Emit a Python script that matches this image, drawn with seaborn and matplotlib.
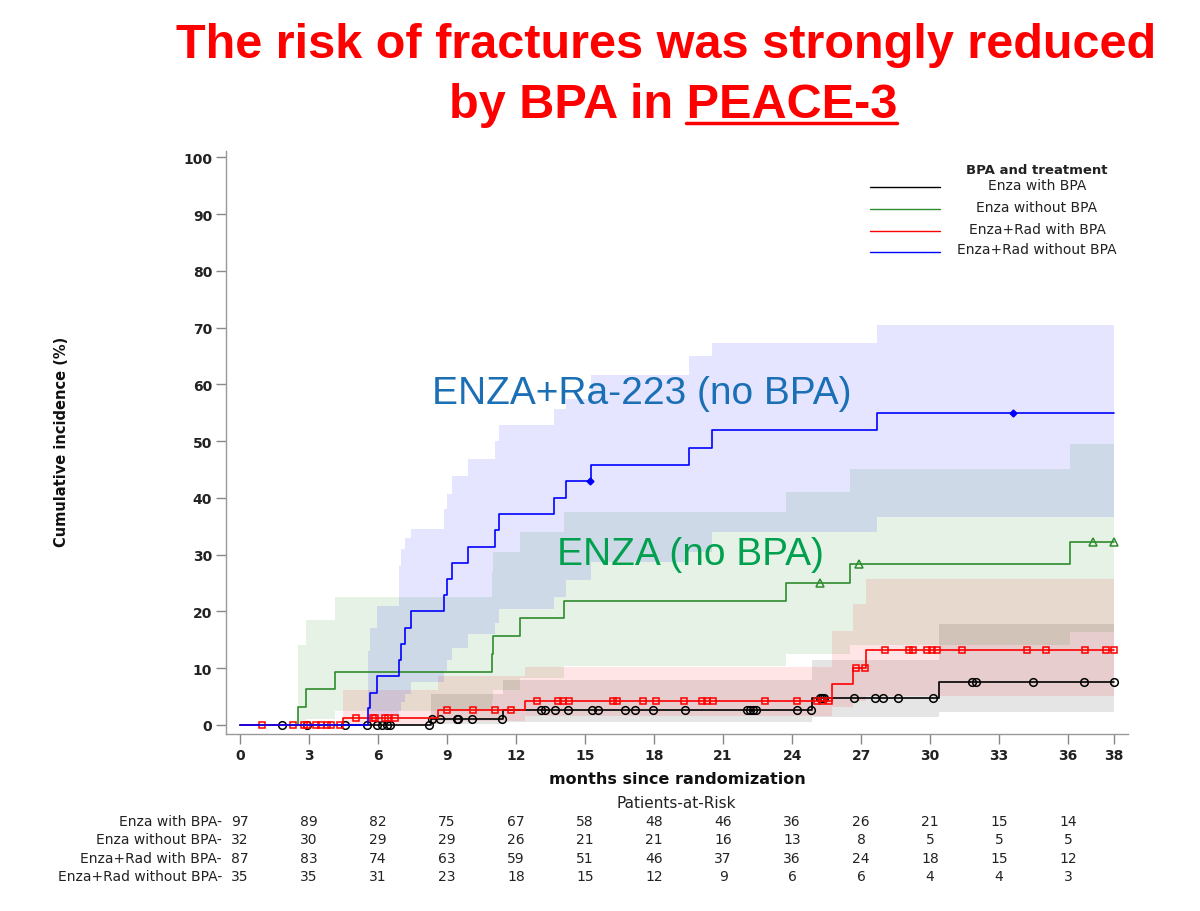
import numpy as np
import matplotlib
matplotlib.use("Agg")
import matplotlib.pyplot as plt
import matplotlib.transforms as mtransforms
from matplotlib.lines import Line2D
import seaborn as sns

# ---------------- data ----------------
x_ticks = [0, 3, 6, 9, 12, 15, 18, 21, 24, 27, 30, 33, 36, 38]
y_ticks = [0, 10, 20, 30, 40, 50, 60, 70, 80, 90, 100]
END = 38.0

groups = ["Enza with BPA", "Enza without BPA", "Enza+Rad with BPA", "Enza+Rad without BPA"]

# Enza with BPA (black)
black_t = [0, 8.3, 11.45, 24.85, 30.4]
black_y = [0, 1.1, 2.6, 4.7, 7.6]
black_lo = [0, 0.1, 0.6, 1.4, 2.3]
black_hi = [0, 5.5, 8.0, 11.5, 17.8]
black_cens = [1.84, 2.93, 4.57, 5.5, 5.94, 6.16, 6.38, 6.52, 8.22, 8.36, 8.7, 9.42, 9.49,
              10.07, 11.4, 13.1, 13.26, 13.7, 14.27, 15.29, 15.58, 16.74, 17.17, 17.97,
              19.35, 22.03, 22.15, 22.3, 22.43, 24.23, 24.8, 25.2, 25.3, 25.4, 26.67,
              27.6, 27.97, 28.62, 30.14, 31.8, 32.0, 34.46, 36.67, 37.97]

# Enza without BPA (green)
green_t = [0, 2.54, 2.87, 4.13, 10.94, 11.0, 12.19, 14.09, 23.75, 26.5, 36.1]
green_y = [0, 3.1, 6.25, 9.4, 12.5, 15.6, 18.8, 21.9, 25.0, 28.4, 32.3]
green_lo = [0, 0.3, 1.0, 2.5, 4.2, 6.2, 8.3, 10.3, 12.5, 14.0, 16.4]
green_hi = [0, 14.0, 18.4, 22.6, 27.0, 30.5, 34.0, 37.5, 41.0, 45.0, 49.5]
green_cens = [25.2, 26.9, 37.06, 37.97]

# Enza+Rad with BPA (red)
red_t = [0, 4.49, 8.62, 12.39, 25.75, 26.65, 27.2]
red_y = [0, 1.15, 2.6, 4.3, 7.2, 10.0, 13.2]
red_lo = [0, 0.2, 0.7, 1.6, 3.2, 4.2, 5.1]
red_hi = [0, 6.2, 8.7, 10.2, 16.6, 21.3, 25.7]
red_cens = [0.94, 2.29, 2.78, 2.9, 3.3, 3.5, 3.77, 3.95, 4.35, 5.04, 5.77, 5.85, 6.3,
            6.45, 6.74, 9.01, 10.14, 11.09, 11.78, 12.9, 13.84, 14.06, 14.32, 16.2, 16.4,
            17.5, 18.1, 19.3, 20.07, 20.29, 20.58, 22.8, 24.2, 25.07, 25.3, 25.6, 26.77,
            27.15, 28.04, 29.1, 29.27, 29.85, 30.07, 30.28, 31.4, 34.2, 35.04, 36.74,
            37.65, 37.97]

# Enza+Rad without BPA (blue)
blue_t = [0, 5.55, 5.65, 5.94, 6.93, 7.0, 7.15, 7.45, 8.88, 9.0, 9.2, 9.9, 11.1, 11.26,
          13.65, 14.16, 15.25, 19.5, 20.5, 27.7]
blue_y = [0, 2.9, 5.7, 8.6, 11.4, 14.3, 17.1, 20.0, 22.9, 25.7, 28.6, 31.4, 34.3, 37.1,
          40.0, 42.9, 45.8, 48.8, 51.9, 55.0]
blue_lo = [0, 0.0, 0.5, 1.5, 2.5, 4.0, 5.5, 7.5, 9.5, 11.5, 13.5, 16.0, 18.0, 20.5,
           22.5, 25.5, 28.7, 30.5, 34.0, 36.6]
blue_hi = [0, 13.0, 17.0, 21.0, 28.0, 31.0, 33.0, 34.5, 38.0, 40.7, 43.9, 46.9, 50.1,
           52.8, 55.6, 57.5, 61.6, 65.0, 67.3, 70.4]
blue_cens = [15.2, 33.6]

# Patients at risk at months 0, 3, ..., 36
risk_months = [0, 3, 6, 9, 12, 15, 18, 21, 24, 27, 30, 33, 36]
risk_black = [97, 89, 82, 75, 67, 58, 48, 46, 36, 26, 21, 15, 14]
risk_green = [32, 30, 29, 29, 26, 21, 21, 16, 13, 8, 5, 5, 5]
risk_red = [87, 83, 74, 63, 59, 51, 46, 37, 36, 24, 18, 15, 12]
risk_blue = [35, 35, 31, 23, 18, 15, 12, 9, 6, 6, 4, 4, 3]

title_line1 = "The risk of fractures was strongly reduced"
title_line2 = "by BPA in PEACE-3"
title_underlined = "PEACE-3"

# ---------------- styling ----------------
sns.set_theme(style="white")
plt.rcParams["font.family"] = ["DejaVu Sans"]

W, H = 1200, 912
fig = plt.figure(figsize=(W / 100, H / 100), dpi=100)
fig.patch.set_facecolor("white")


def fx(px):
    return px / W


def fy(py):
    return 1 - py / H


ax = fig.add_axes([fx(226), fy(735), fx(1128) - fx(226), fy(152) - fy(735)])
ax.set_facecolor("white")

series = [
    (black_t, black_y, black_lo, black_hi, black_cens, "black", "black", "o", 5.5),
    (green_t, green_y, green_lo, green_hi, green_cens, "#2E8B2E", "green", "^", 5.5),
    (red_t, red_y, red_lo, red_hi, red_cens, "#FF0000", "red", "s", 5.0),
    (blue_t, blue_y, blue_lo, blue_hi, blue_cens, "#0000FF", "blue", "D", 3.5),
]

# confidence bands
for t, y, lo, hi, cens, lc, bc, mk, ms in series:
    xs = list(t[1:]) + [END]
    ax.fill_between(xs, list(lo[1:]) + [lo[-1]], list(hi[1:]) + [hi[-1]],
                    step="post", color=bc, alpha=0.1, linewidth=0, zorder=1)

# step curves + censor markers
for i, (t, y, lo, hi, cens, lc, bc, mk, ms) in enumerate(series):
    xs = list(t) + [END]
    ys = list(y) + [y[-1]]
    sns.lineplot(x=xs, y=ys, drawstyle="steps-post", estimator=None, sort=False,
                 color=lc, linewidth=1.2, ax=ax, legend=False, zorder=3 + i)
    tarr = np.asarray(t)
    idx = np.searchsorted(tarr, np.asarray(cens), side="right") - 1
    yc = np.asarray(y)[idx]
    if mk == "D":
        ax.plot(cens, yc, ls="none", marker=mk, ms=ms, mfc=lc, mec=lc, zorder=8)
    else:
        ax.plot(cens, yc, ls="none", marker=mk, ms=ms, mfc="none", mec=lc, mew=1.1,
                zorder=3 + i)

ax.set_xlim(-0.61, 38.6)
ax.set_ylim(-1.6, 101.1)
ax.set_xticks(x_ticks)
ax.set_xticklabels([str(v) for v in x_ticks], fontsize=10, fontweight="bold", color="#222222")
ax.set_yticks(y_ticks)
ax.set_yticklabels([str(v) for v in y_ticks], fontsize=10, fontweight="bold", color="#222222")
ax.tick_params(axis="both", direction="out", length=7, width=1, color="#888888", pad=3,
               bottom=True, left=True)
for s in ["top", "right"]:
    ax.spines[s].set_visible(False)
for s in ["left", "bottom"]:
    ax.spines[s].set_color("#999999")
    ax.spines[s].set_linewidth(1)

ax.set_ylabel("Cumulative incidence (%)", fontsize=10.5, fontweight="bold", color="#111111",
              va="center")
ax.yaxis.set_label_coords((62 - 226) / 902, (735 - 442) / 583)
ax.set_xlabel("months since randomization", fontsize=11.5, fontweight="bold", color="#111111",
              va="center")
ax.xaxis.set_label_coords(0.5, (735 - 780) / 583)

# in-plot annotations
ax.text(17.48, 56.7, "ENZA+Ra-223 (no BPA)", ha="center", va="baseline", fontsize=28,
        family="Liberation Sans", color="#1A6FB5", zorder=10)
ax.text(19.6, 28.3, "ENZA (no BPA)", ha="center", va="baseline", fontsize=28,
        family="Liberation Sans", color="#00A04E", zorder=10)

# legend (centered labels as in the reference)
fig.text(fx(1037), fy(170), "BPA and treatment", ha="center", va="center", fontsize=9.5,
         fontweight="bold", color="#222222")
leg_y = [188, 210, 231.5, 252.5]
leg_cols = ["black", "#2E8B2E", "#FF0000", "#0000FF"]
for g, py, c in zip(groups, leg_y, leg_cols):
    fig.add_artist(Line2D([fx(870), fx(940)], [fy(py), fy(py)], color=c, lw=1.0))
    fig.text(fx(1037), fy(py - 2), g, ha="center", va="center", fontsize=10, color="#222222")

# patients at risk table
fig.text(fx(676), fy(804), "Patients-at-Risk", ha="center", va="center", fontsize=11,
         color="#222222")
trans = mtransforms.blended_transform_factory(ax.transData, fig.transFigure)
row_y = [822, 840.5, 859, 877.5]
for g, vals, py in zip(groups, [risk_black, risk_green, risk_red, risk_blue], row_y):
    fig.text(fx(222), fy(py), g + "-", ha="right", va="center", fontsize=10, color="#222222")
    for m, v in zip(risk_months, vals):
        ax.text(m, fy(py), str(v), transform=trans, ha="center", va="center", fontsize=10,
                color="#222222", clip_on=False)

# title
fig.text(fx(666), fy(58), title_line1, ha="center", va="baseline", fontsize=35,
         fontweight="bold", color="#FF0000", family="Liberation Sans")
t2 = fig.text(fx(673), fy(118), title_line2, ha="center", va="baseline", fontsize=35,
              fontweight="bold", color="#FF0000", family="Liberation Sans")
fig.canvas.draw()
r = fig.canvas.get_renderer()
tmp = fig.text(0, 0, title_underlined, fontsize=35, fontweight="bold",
               family="Liberation Sans")
wb = tmp.get_window_extent(r).width
tmp.remove()
bb = t2.get_window_extent(r)
x1 = bb.x1
x0 = x1 - wb
fig.add_artist(Line2D([x0 / W, x1 / W], [fy(124), fy(124)], color="#FF0000", lw=2.5))

fig.savefig("out.png", dpi=100, facecolor="white")
